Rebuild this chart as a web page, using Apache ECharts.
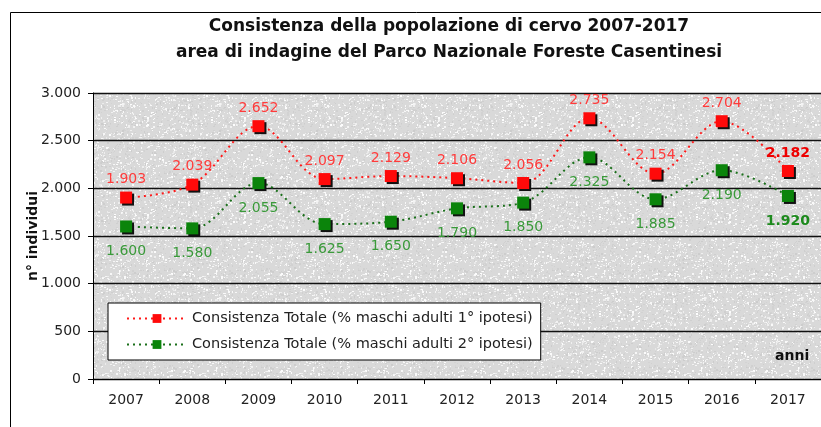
<!DOCTYPE html>
<html>
<head>
<meta charset="utf-8">
<script src="https://cdn.jsdelivr.net/npm/echarts@6/dist/echarts.min.js"></script>
<style>
  html, body { margin: 0; padding: 0; background: #fff; }
  #chart { width: 821px; height: 427px; }
</style>
</head>
<body>
<div id="chart"></div>
<script>
const years = ["2007", "2008", "2009", "2010", "2011", "2012", "2013", "2014", "2015", "2016", "2017"];
const ipotesi1 = [1903, 2039, 2652, 2097, 2129, 2106, 2056, 2735, 2154, 2704, 2182];
const ipotesi2 = [1600, 1580, 2055, 1625, 1650, 1790, 1850, 2325, 1885, 2190, 1920];
const yTicks = [0, 500, 1000, 1500, 2000, 2500, 3000];

const FONT = "'DejaVu Sans', Verdana, sans-serif";

function dotted(v) {
  if (v < 1000) return String(v);
  return Math.floor(v / 1000) + "." + String(v % 1000).padStart(3, "0");
}

// last point of each series has a bold label
function toData(values, lastColor) {
  return values.map((v, i) => {
    if (i !== values.length - 1) return v;
    return {value: v, label: {fontWeight: "bold", color: lastColor}};
  });
}

// grey "granite" fill of the plot area, fixed speckle tile (LCG, no Math.random)
function graniteTile() {
  const size = 97;
  const c = document.createElement("canvas");
  c.width = size;
  c.height = size;
  const ctx = c.getContext("2d");
  ctx.fillStyle = "#d9d9d9";
  ctx.fillRect(0, 0, size, size);
  let s = 12345;
  const next = () => (s = (s * 1103515245 + 12345) % 2147483648) / 2147483648;
  for (let i = 0; i < 1400; i++) {
    const x = Math.floor(next() * size);
    const y = Math.floor(next() * size);
    const g = next();
    const shade = g < 0.55 ? 232 + Math.round(g * 40) : 194 + Math.round(g * 18);
    ctx.fillStyle = "rgb(" + shade + "," + shade + "," + shade + ")";
    ctx.fillRect(x, y, 1 + (next() < 0.4 ? 1 : 0), 1 + (next() < 0.3 ? 1 : 0));
  }
  return {image: c, repeat: "repeat"};
}

const chart = echarts.init(document.getElementById("chart"));
chart.setOption({
  animation: false,
  backgroundColor: "#fff",
  textStyle: {fontFamily: FONT},
  title: {
    text: "Consistenza della popolazione di cervo 2007-2017\narea di indagine del Parco Nazionale Foreste Casentinesi",
    left: 444,
    textAlign: "center",
    top: 9,
    textStyle: {fontFamily: FONT, fontSize: 17, fontWeight: "bold", color: "#111", lineHeight: 26}
  },
  grid: {left: 93, right: -8, top: 93, bottom: 48, show: true, backgroundColor: graniteTile(), borderWidth: 0},
  legend: {
    orient: "vertical",
    left: 108,
    top: 303,
    backgroundColor: "#fff",
    borderColor: "#000",
    borderWidth: 1,
    padding: [8, 8, 8, 18],
    itemWidth: 60,
    itemHeight: 11,
    itemGap: 11,
    textStyle: {fontFamily: FONT, fontSize: 14.5, color: "#222"},
    data: ["Consistenza Totale (% maschi adulti 1° ipotesi)", "Consistenza Totale (% maschi adulti 2° ipotesi)"]
  },
  xAxis: {
    type: "category",
    data: years,
    boundaryGap: true,
    axisLine: {lineStyle: {color: "#000", width: 1}},
    axisTick: {show: true, length: 5, lineStyle: {color: "#000"}},
    axisLabel: {fontFamily: FONT, fontSize: 14, color: "#222", margin: 14}
  },
  yAxis: {
    type: "value",
    min: yTicks[0],
    max: yTicks[yTicks.length - 1],
    interval: 500,
    name: "n° individui",
    nameLocation: "middle",
    nameGap: 53,
    nameMoveOverlap: false,
    nameTextStyle: {fontFamily: FONT, fontSize: 14, fontWeight: "bold", color: "#111"},
    axisLine: {show: true, lineStyle: {color: "#000"}},
    axisTick: {show: true, length: 5, lineStyle: {color: "#000"}},
    axisLabel: {fontFamily: FONT, fontSize: 14, color: "#222", margin: 12, formatter: dotted},
    splitLine: {lineStyle: {color: "#111", width: 1.3}}
  },
  series: [
    {
      name: "Consistenza Totale (% maschi adulti 1° ipotesi)",
      type: "line",
      data: toData(ipotesi1, "#ee0000"),
      smooth: 0.35,
      symbol: "rect",
      symbolSize: 12,
      itemStyle: {color: "#ff0a0a", shadowColor: "#111", shadowOffsetX: 2, shadowOffsetY: 2, shadowBlur: 0},
      lineStyle: {color: "#ff1a1a", width: 2, type: [2, 4]},
      label: {show: true, position: "top", distance: 5, fontFamily: FONT, fontSize: 14, color: "#ff3b3b", formatter: p => dotted(p.value)},
      z: 3
    },
    {
      name: "Consistenza Totale (% maschi adulti 2° ipotesi)",
      type: "line",
      data: toData(ipotesi2, "#1d8a1d"),
      smooth: 0.35,
      symbol: "rect",
      symbolSize: 12,
      itemStyle: {color: "#0b840b", shadowColor: "#111", shadowOffsetX: 2, shadowOffsetY: 2, shadowBlur: 0},
      lineStyle: {color: "#1a6f1a", width: 2, type: [2, 4]},
      label: {show: true, position: "bottom", distance: 12, fontFamily: FONT, fontSize: 14, color: "#3a9a3a", formatter: p => dotted(p.value)},
      z: 3
    }
  ],
  graphic: [
    {type: "rect", left: 8, top: 10, shape: {width: 900, height: 440}, style: {fill: null, stroke: "#000", lineWidth: 1}, silent: true},
    {type: "text", left: 775, top: 349, style: {text: "anni", fontFamily: FONT, fontSize: 14, fontWeight: "bold", fill: "#111"}}
  ]
});
</script>
</body>
</html>
